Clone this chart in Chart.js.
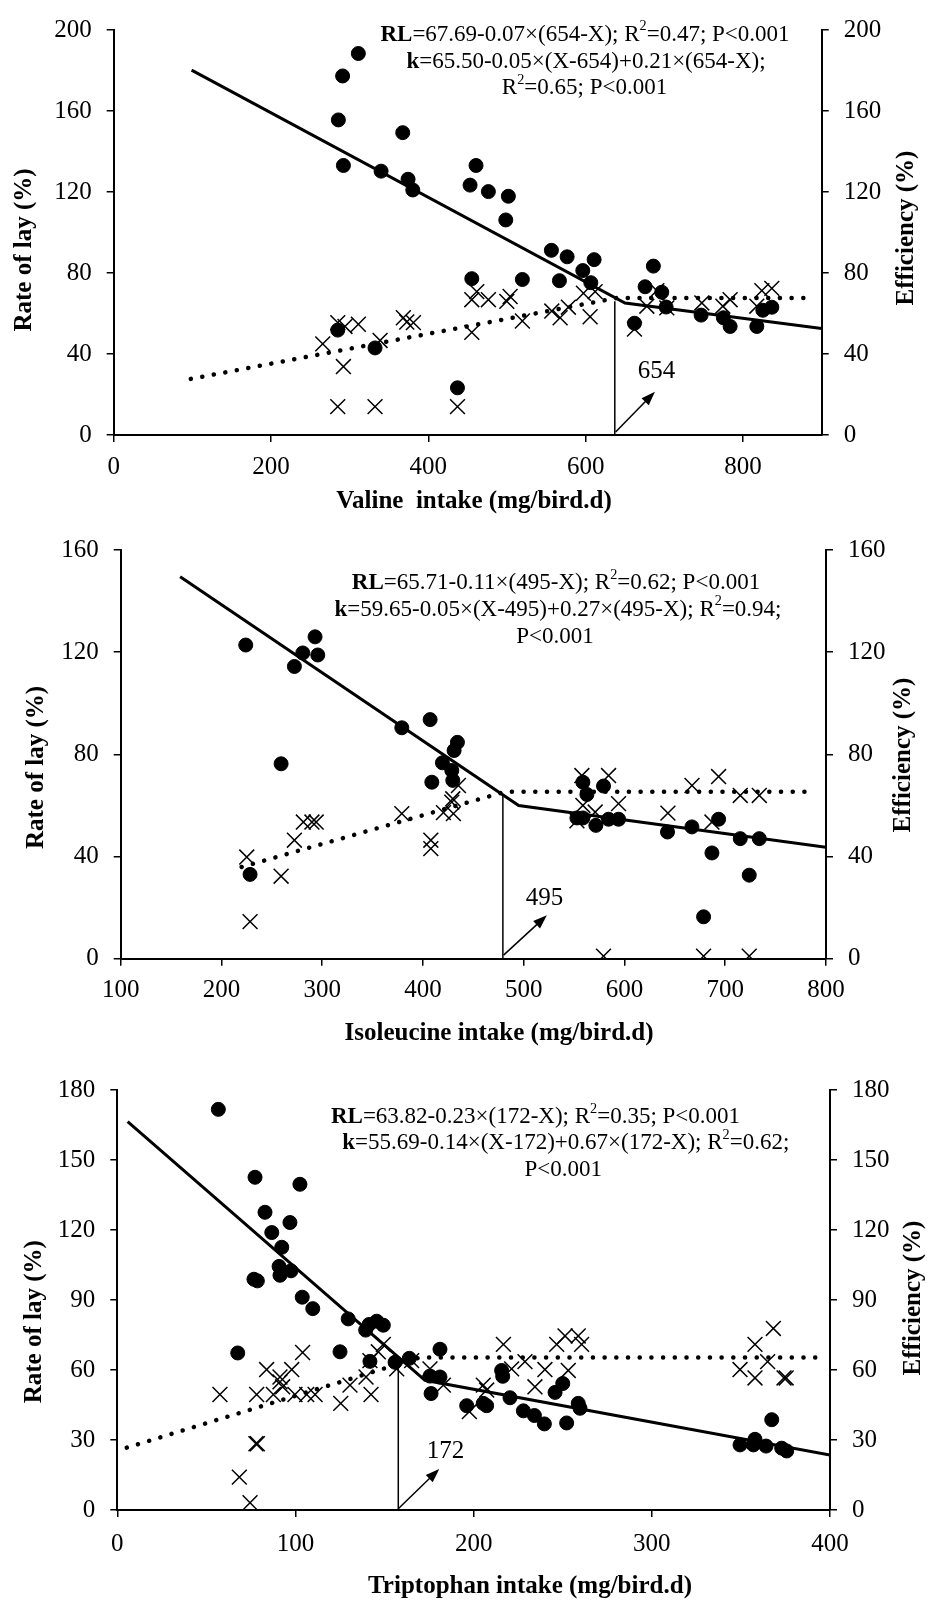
<!DOCTYPE html>
<html>
<head>
<meta charset="utf-8">
<script src="https://cdn.jsdelivr.net/npm/chart.js@4.4.1/dist/chart.umd.min.js"></script>
<style>
  body { margin: 0; background: #fff; }
  canvas { position: absolute; left: 0; }
</style>
</head>
<body>
<canvas id="valineChart" width="928" height="520" style="top:0px"></canvas>
<canvas id="isoleucineChart" width="928" height="540" style="top:520px"></canvas>
<canvas id="triptophanChart" width="928" height="540" style="top:1060px"></canvas>
<script>
// ---- Valine ----
const valineLayX = [284.8, 294, 311, 265.7, 292, 338.6, 368.2, 372.5, 381, 284.8, 332.2, 437,
    455.2, 461.5, 476.3, 499.7, 503.9, 455.2, 519.5, 556.9, 567.5, 578, 597.1, 612, 605.6,
    662, 677.7, 690.4, 703.1, 747.6, 774.3, 783.6, 817.5, 823.9, 836.6];
const valineLayY = [55.5, 53.6, 54.7, 45, 33.8, 46.7, 57.9, 55.8, 55.5, 14, 14, 14,
    66.8, 70.8, 66.8, 66, 68.4, 50.7, 56.3, 61.2, 57.9, 63.1, 70, 70.8, 58.4,
    52.3, 63.6, 71.3, 62.8, 65.2, 63.6, 66.8, 63.6, 71.3, 72.4];
const valineEffX = [311, 291, 285.6, 292, 367.4, 339.9, 374.2, 380.2, 284.8, 332.2, 437,
    460.6, 453, 476.3, 501.7, 498.4, 455.2, 519.5, 556.4, 576.4, 566.6, 596.3, 610.7, 606.5,
    662, 675.5, 686, 696.7, 702.2, 746.7, 775, 783.6, 817.5, 825.2, 836.6];
const valineEffY = [188.4, 177.3, 155.6, 133.1, 149.3, 130.3, 126.3, 121, 51.8, 43, 23.3,
    133.1, 123.4, 120.2, 117.9, 106.2, 77.2, 76.8, 91.2, 88, 76.2, 81.2, 86.6, 75.2,
    55.2, 73.2, 83.4, 70.5, 63.2, 59.2, 57.9, 53.6, 53.6, 61.6, 63.1];
const valineEffLineX = [99, 650, 900];
const valineEffLineY = [180.2, 65.2, 52.6];
const valineLayLineX = [98, 640, 890];
const valineLayLineY = [27.7, 67.7, 67.7];
const valineBreak = [637, 66];          // x, top of the vertical marker
const valineArrow = [638, 1.5, 688, 21.4];
const valineBreakLabel = ['654', 690, 31.4];
const valineXTicks = [0, 900, 200];     // min, max, step
const valineYTicks = [0, 200, 40];

// ---- Isoleucine ----
const isoLayX = [225.1, 228.4, 259.2, 272.4, 281.3, 289.8, 294, 379, 407.8, 407.8, 420.3, 428.6, 430.2, 429.6, 435.2,
    557.7, 558.7, 552.8, 570.9, 584.2, 594.1, 579.2, 643.1, 667, 686.8, 693.4, 714.9, 733.8, 678.5, 723.8];
const isoLayY = [39.8, 14.5, 32.3, 46.4, 53.5, 53.5, 53.5, 56.8, 46.4, 43.1, 57.2, 61.3, 56.8, 62.6, 67.8,
    71.7, 60, 54, 57.4, 71.7, 60.7, 1, 57, 67.8, 53.5, 71.3, 63.9, 63.9, 1, 1];
const isoEffX = [224.1, 228.4, 259.2, 272.4, 280.7, 292.9, 295.6, 379, 407.1, 408.8, 419.3, 428.6, 429.6, 430.9, 434.2,
    558.7, 562.7, 579.2, 552.8, 558.7, 571.6, 584.2, 594.1, 642.7, 666.9, 693.4, 686.8, 714.9, 733.8, 723.8, 678.5];
const isoEffY = [122.8, 33, 76.3, 114.4, 119.7, 126, 118.9, 90.4, 93.6, 69.1, 76.7, 73.7, 69.8, 81.5, 84.7,
    69.1, 64.3, 67.6, 55.1, 55.1, 52.2, 54.6, 54.6, 49.6, 51.6, 54.6, 41.4, 47, 47, 32.7, 16.4];
const isoEffLineX = [159, 495, 800];
const isoEffLineY = [149.5, 60, 43.6];
const isoLayLineX = [220, 482, 790];
const isoLayLineY = [35.9, 65.4, 65.4];
const isoBreak = [479.3, 64.3];
const isoArrow = [480, 1.4, 523, 17];
const isoBreakLabel = ['495', 520.5, 23.6];
const isoXTicks = [100, 800, 100];
const isoYTicks = [0, 160, 40];

// ---- Triptophan ----
const tripLayX = [57.6, 78.2, 77.8, 78.6, 83.8, 87.6, 91.3, 92.8, 91.3, 97.9, 99.7, 104, 106.3, 111, 125.4, 130.6,
    139.6, 142.4, 141.8, 146.5, 149.3, 156.8, 165.2, 175.5, 183, 197.6, 207.3, 205.4, 216.7, 221.3, 228.8,
    234.4, 240, 246.6, 251.3, 253.1, 258.7, 260.6, 349.5, 357.9, 357.9, 365, 368.2, 374.2, 375.4, 68.5, 74.5];
const tripLayY = [49.5, 49.5, 28.4, 28.4, 60.2, 49.5, 54.9, 52.8, 57, 60.2, 49.5, 67.5, 49.5, 49.5, 45.7, 53.5,
    57, 49.5, 64, 67.8, 71, 60.5, 64, 60.5, 53.5, 42.2, 51.4, 53.5, 71, 60.5, 63.6,
    52.8, 60.2, 71, 74.6, 59.8, 74.6, 71, 60.2, 71, 56.6, 63.6, 77.8, 56.6, 56.6, 14.1, 3.1];
const tripEffX = [56.7, 77.3, 82.9, 86.7, 102.5, 96.9, 92.3, 90.8, 91.3, 97.5, 76.7, 78.6, 103.8, 109.7, 67.6,
    125, 129.6, 139.4, 141.3, 145.6, 149.3, 141.8, 155.9, 163.9, 176.1, 175.5, 181.1, 181.1,
    196.1, 205.4, 207.3, 215.7, 216.3, 220.4, 227.9, 234.1, 239.7, 245.7, 250, 252.2, 258.7, 259.7,
    349.5, 357.9, 357, 364.1, 367.3, 372.9, 375.7];
const tripEffY = [171.7, 142.6, 127.6, 118.9, 139.6, 123.2, 112.6, 104.4, 100.6, 102.5, 98.9, 98.2, 91.2, 86.3, 67.3,
    67.8, 81.9, 77.1, 79.5, 80.9, 79.2, 63.7, 63.3, 65, 49.9, 57.4, 57, 68.9,
    44.7, 45.7, 44.7, 59.8, 57.3, 48.1, 42.5, 40.5, 36.9, 50.4, 54.2, 37.3, 45.7, 43.6,
    27.9, 30.3, 27.9, 27.4, 38.7, 26.5, 25.3];
const tripEffLineX = [5.8, 172.7, 400];
const tripEffLineY = [166.4, 55.6, 23.6];
const tripLayLineX = [5.3, 170, 397];
const tripLayLineY = [26.7, 65.4, 65.4];
const tripBreak = [157.7, 62];
const tripArrow = [157.7, 0.5, 180.7, 17.6];
const tripBreakLabel = ['172', 184.2, 25.3];
const tripXTicks = [0, 400, 100];
const tripYTicks = [0, 180, 30];

const FONT = "'Liberation Serif', 'Times New Roman', serif";
Chart.defaults.font.family = FONT;
Chart.defaults.color = '#000';

function pts(xs, ys) {
    return xs.map((x, i) => ({ x: x, y: ys[i] }));
}

// draw a line of text made of runs (bold / superscript), centred at cx
function richLine(ctx, runs, cx, cy, size) {
    const fontOf = r => (r.b ? 'bold ' : '') + (r.s ? size * 0.62 : size) + 'px ' + FONT;
    let total = 0;
    const widths = runs.map(r => { ctx.font = fontOf(r); const w = ctx.measureText(r.t).width; total += w; return w; });
    let x = cx - total / 2;
    ctx.textAlign = 'left';
    ctx.textBaseline = 'middle';
    runs.forEach((r, i) => {
        ctx.font = fontOf(r);
        ctx.fillText(r.t, x, r.s ? cy - size * 0.36 : cy);
        x += widths[i];
    });
}

const decorPlugin = {
    id: 'decor',
    afterDatasetsDraw(chart, args, opts) {
        const ctx = chart.ctx;
        const sx = chart.scales.x, sy = chart.scales.y;
        const off = opts.offset;
        ctx.save();
        ctx.fillStyle = '#000';
        ctx.strokeStyle = '#000';

        // arrow from the breakpoint
        const a = opts.arrow;
        const x0 = sx.getPixelForValue(a[0]), y0 = sy.getPixelForValue(a[1]);
        const x1 = sx.getPixelForValue(a[2]), y1 = sy.getPixelForValue(a[3]);
        const ang = Math.atan2(y1 - y0, x1 - x0);
        const head = 14;
        ctx.lineWidth = 1.5;
        ctx.beginPath();
        ctx.moveTo(x0, y0);
        ctx.lineTo(x1 - Math.cos(ang) * head * 0.8, y1 - Math.sin(ang) * head * 0.8);
        ctx.stroke();
        ctx.beginPath();
        ctx.moveTo(x1, y1);
        ctx.lineTo(x1 - head * Math.cos(ang) + 5 * Math.sin(ang), y1 - head * Math.sin(ang) - 5 * Math.cos(ang));
        ctx.lineTo(x1 - head * Math.cos(ang) - 5 * Math.sin(ang), y1 - head * Math.sin(ang) + 5 * Math.cos(ang));
        ctx.closePath();
        ctx.fill();

        // breakpoint value
        const bl = opts.breakLabel;
        ctx.font = '25px ' + FONT;
        ctx.textAlign = 'center';
        ctx.textBaseline = 'middle';
        ctx.fillText(bl[0], sx.getPixelForValue(bl[1]), sy.getPixelForValue(bl[2]));

        // equations
        opts.equations.forEach(eq => richLine(ctx, eq.runs, eq.x, eq.y - off, 23));

        // axis titles
        ctx.font = 'bold 25px ' + FONT;
        ctx.textAlign = 'center';
        ctx.textBaseline = 'middle';
        const t = opts.titles;
        ctx.fillText(t.x[0], t.x[1], t.x[2] - off);
        [t.left, t.right].forEach(tt => {
            ctx.save();
            ctx.translate(tt[1], tt[2] - off);
            ctx.rotate(-Math.PI / 2);
            ctx.fillText(tt[0], 0, 0);
            ctx.restore();
        });
        ctx.restore();
    }
};

function buildPanel(cfg) {
    const area = cfg.area;
    const axisFont = { size: 25, family: FONT };
    const yScale = (pos) => ({
        type: 'linear',
        position: pos,
        min: cfg.yTicks[0], max: cfg.yTicks[1],
        ticks: { stepSize: cfg.yTicks[2], font: axisFont, padding: 15, color: '#000' },
        grid: { drawOnChartArea: false, drawTicks: true, tickLength: 7, color: '#000', lineWidth: 1.5 },
        border: { display: true, color: '#000', width: 2 },
        afterFit(axis) { axis.width = pos === 'left' ? area.left : 928 - area.right; }
    });
    return new Chart(document.getElementById(cfg.id), {
        type: 'scatter',
        data: {
            datasets: [
                {
                    label: 'Rate of lay',
                    data: pts(cfg.layX, cfg.layY),
                    yAxisID: 'y',
                    pointStyle: 'crossRot',
                    pointRadius: 10.5,
                    borderColor: '#000',
                    borderWidth: 1.5,
                    backgroundColor: '#000'
                },
                {
                    label: 'Efficiency',
                    data: pts(cfg.effX, cfg.effY),
                    yAxisID: 'y1',
                    pointStyle: 'circle',
                    pointRadius: 7,
                    borderWidth: 1,
                    borderColor: '#000',
                    backgroundColor: '#000'
                },
                {
                    label: 'Efficiency fit',
                    data: pts(cfg.effLineX, cfg.effLineY),
                    yAxisID: 'y1',
                    showLine: true,
                    pointRadius: 0,
                    borderColor: '#000',
                    borderWidth: 3
                },
                {
                    label: 'Rate of lay fit',
                    data: pts(cfg.layLineX, cfg.layLineY),
                    yAxisID: 'y',
                    showLine: true,
                    pointRadius: 0,
                    borderColor: '#000',
                    borderWidth: 4.5,
                    borderCapStyle: 'round',
                    borderDash: [0.1, 11.6]
                },
                {
                    label: 'Breakpoint',
                    data: pts([cfg.brk[0], cfg.brk[0]], [0, cfg.brk[1]]),
                    yAxisID: 'y',
                    showLine: true,
                    pointRadius: 0,
                    borderColor: '#000',
                    borderWidth: 1.5
                }
            ]
        },
        options: {
            responsive: false,
            animation: false,
            devicePixelRatio: 1,
            layout: { padding: { top: area.top, left: 0, right: 0, bottom: 0 } },
            plugins: {
                legend: { display: false },
                tooltip: { enabled: false },
                decor: {
                    offset: cfg.offset,
                    arrow: cfg.arrow,
                    breakLabel: cfg.breakLabel,
                    equations: cfg.equations,
                    titles: cfg.titles
                }
            },
            scales: {
                x: {
                    type: 'linear',
                    position: 'bottom',
                    min: cfg.xTicks[0], max: cfg.xTicks[1],
                    ticks: { stepSize: cfg.xTicks[2], includeBounds: false, font: axisFont, padding: cfg.xPad, color: '#000', maxRotation: 0 },
                    grid: { drawOnChartArea: false, drawTicks: true, tickLength: 7, color: '#000', lineWidth: 1.5 },
                    border: { display: true, color: '#000', width: 2 },
                    afterFit(axis) { axis.height = cfg.height - area.bottom; }
                },
                y: yScale('left'),
                y1: yScale('right')
            }
        },
        plugins: [decorPlugin]
    });
}

buildPanel({
    id: 'valineChart', offset: 0, height: 520,
    area: { left: 113.7, right: 821.7, top: 20.7, bottom: 435 },
    xTicks: valineXTicks, yTicks: valineYTicks, xPad: 10,
    layX: valineLayX, layY: valineLayY, effX: valineEffX, effY: valineEffY,
    effLineX: valineEffLineX, effLineY: valineEffLineY,
    layLineX: valineLayLineX, layLineY: valineLayLineY,
    brk: valineBreak, arrow: valineArrow, breakLabel: valineBreakLabel,
    equations: [
        { x: 585, y: 35, runs: [{ t: 'RL', b: true }, { t: '=67.69-0.07×(654-X); R' }, { t: '2', s: true }, { t: '=0.47; P<0.001' }] },
        { x: 586, y: 61.7, runs: [{ t: 'k', b: true }, { t: '=65.50-0.05×(X-654)+0.21×(654-X);' }] },
        { x: 584.5, y: 88.3, runs: [{ t: 'R' }, { t: '2', s: true }, { t: '=0.65; P<0.001' }] }
    ],
    titles: {
        x: ['Valine  intake (mg/bird.d)', 474, 501.7],
        left: ['Rate of lay (%)', 25, 250],
        right: ['Efficiency (%)', 906.7, 228]
    }
});

buildPanel({
    id: 'isoleucineChart', offset: 520, height: 540,
    area: { left: 120.7, right: 826, top: 29, bottom: 438.7 },
    xTicks: isoXTicks, yTicks: isoYTicks, xPad: 10,
    layX: isoLayX, layY: isoLayY, effX: isoEffX, effY: isoEffY,
    effLineX: isoEffLineX, effLineY: isoEffLineY,
    layLineX: isoLayLineX, layLineY: isoLayLineY,
    brk: isoBreak, arrow: isoArrow, breakLabel: isoBreakLabel,
    equations: [
        { x: 556, y: 583.3, runs: [{ t: 'RL', b: true }, { t: '=65.71-0.11×(495-X); R' }, { t: '2', s: true }, { t: '=0.62; P<0.001' }] },
        { x: 558, y: 610, runs: [{ t: 'k', b: true }, { t: '=59.65-0.05×(X-495)+0.27×(495-X); R' }, { t: '2', s: true }, { t: '=0.94;' }] },
        { x: 555, y: 637.3, runs: [{ t: 'P<0.001' }] }
    ],
    titles: {
        x: ['Isoleucine intake (mg/bird.d)', 499, 1033.3],
        left: ['Rate of lay (%)', 36.7, 767.5],
        right: ['Efficiency (%)', 903.3, 755]
    }
});

buildPanel({
    id: 'triptophanChart', offset: 1060, height: 540,
    area: { left: 117.3, right: 830, top: 23.7, bottom: 450 },
    xTicks: tripXTicks, yTicks: tripYTicks, xPad: 12,
    layX: tripLayX, layY: tripLayY, effX: tripEffX, effY: tripEffY,
    effLineX: tripEffLineX, effLineY: tripEffLineY,
    layLineX: tripLayLineX, layLineY: tripLayLineY,
    brk: tripBreak, arrow: tripArrow, breakLabel: tripBreakLabel,
    equations: [
        { x: 535.5, y: 1117.3, runs: [{ t: 'RL', b: true }, { t: '=63.82-0.23×(172-X); R' }, { t: '2', s: true }, { t: '=0.35; P<0.001' }] },
        { x: 565.8, y: 1143.3, runs: [{ t: 'k', b: true }, { t: '=55.69-0.14×(X-172)+0.67×(172-X); R' }, { t: '2', s: true }, { t: '=0.62;' }] },
        { x: 563.3, y: 1170, runs: [{ t: 'P<0.001' }] }
    ],
    titles: {
        x: ['Triptophan intake (mg/bird.d)', 530, 1586.7],
        left: ['Rate of lay (%)', 35, 1321.7],
        right: ['Efficiency (%)', 913.3, 1298]
    }
});
</script>
</body>
</html>
